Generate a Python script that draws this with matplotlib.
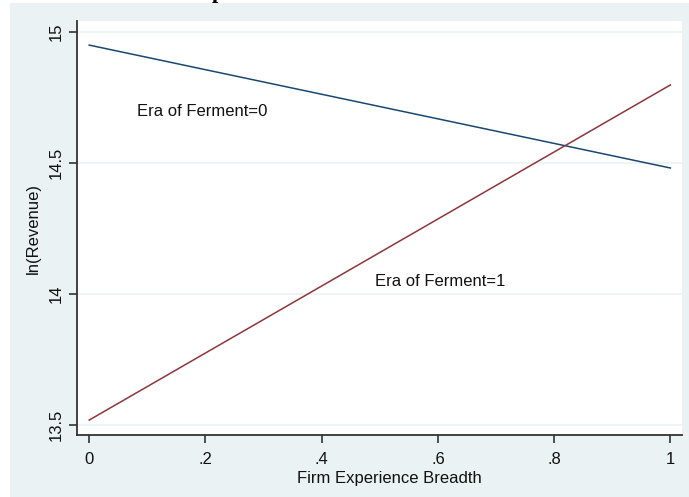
import matplotlib
matplotlib.use("Agg")
import matplotlib.pyplot as plt
from matplotlib.patches import Rectangle

# Predicted ln(Revenue) at the two ends of firm experience breadth
breadth = [0.0, 1.0]
ferment0 = [14.95, 14.481]
ferment1 = [13.519, 14.798]

x_ticks = [0, 0.2, 0.4, 0.6, 0.8, 1.0]
x_tick_labels = ["0", ".2", ".4", ".6", ".8", "1"]
y_ticks = [13.5, 14.0, 14.5, 15.0]
y_tick_labels = ["13.5", "14", "14.5", "15"]

label0 = "Era of Ferment=0"
label1 = "Era of Ferment=1"

plt.rcParams["font.family"] = ["Liberation Sans", "DejaVu Sans"]

BG = "#eaf2f3"
NAVY = "#1a476f"
MAROON = "#90353b"
AXIS = "#333333"

fig = plt.figure(figsize=(6.89, 4.97), dpi=100)
fig.patch.set_facecolor("white")

# graph region
region = Rectangle((10 / 689, 0), 1 - 10 / 689, 1 - 3 / 497,
                   transform=fig.transFigure, facecolor=BG,
                   edgecolor="none", zorder=-10)
fig.add_artist(region)

# clipped title peeking in at the very top
fig.text(218 / 689, 1 + 2 / 497, "p", family=["Liberation Serif", "DejaVu Serif"],
         fontweight="bold", fontsize=16, ha="center", va="baseline", color="black")

ax = fig.add_axes([77 / 689, 1 - 435 / 497, (682 - 77) / 689, (435 - 21) / 497])
ax.set_zorder(1)
ax.set_facecolor("white")

ax.plot(breadth, ferment0, color=NAVY, lw=1.1, zorder=3)
ax.plot(breadth, ferment1, color=MAROON, lw=1.1, zorder=3)

ax.text(0.082, 14.695, label0, fontsize=12, ha="left", va="center", color="#111111")
ax.text(0.492, 14.046, label1, fontsize=12, ha="left", va="center", color="#111111")

ax.set_xlim(-0.021, 1.02)
ax.set_ylim(13.462, 15.042)

ax.set_xticks(x_ticks)
ax.set_xticklabels(x_tick_labels)
ax.set_yticks(y_ticks)
ax.set_yticklabels(y_tick_labels, rotation=90, va="center")

ax.grid(axis="y", color=BG, lw=1.2, zorder=1)
ax.set_axisbelow(True)

for side in ["top", "right"]:
    ax.spines[side].set_visible(False)
for side in ["left", "bottom"]:
    ax.spines[side].set_color(AXIS)
    ax.spines[side].set_linewidth(1.3)

ax.tick_params(axis="both", direction="out", length=6, width=1.2, color=AXIS,
               labelsize=12, labelcolor="#111111")
ax.tick_params(axis="x", pad=6)

ax.set_xlabel("Firm Experience Breadth", fontsize=12, color="#111111", labelpad=5)
ax.xaxis.set_label_coords(0.516, -0.088)
ax.set_ylabel("ln(Revenue)", fontsize=12, color="#111111", labelpad=6)

fig.savefig("out.png", dpi=100)
